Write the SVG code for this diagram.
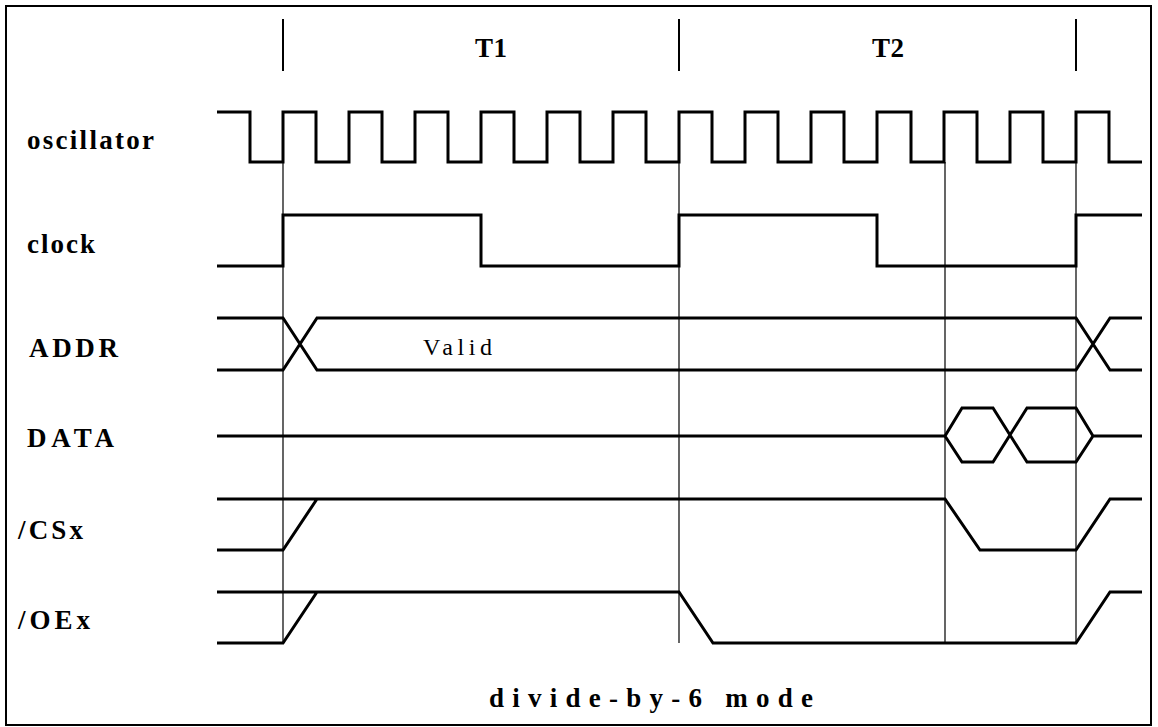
<svg xmlns="http://www.w3.org/2000/svg" width="1158" height="727" viewBox="0 0 1158 727">
<style>
.sig{fill:none;stroke:#000;stroke-width:3;stroke-linejoin:miter}
.grid{fill:none;stroke:#000;stroke-width:1.2}
.tick{fill:none;stroke:#000;stroke-width:2}
.lbl{font-family:"Liberation Serif","Times New Roman",serif;font-weight:bold;font-size:27px;fill:#000}
.txt{font-family:"Liberation Serif","Times New Roman",serif;font-size:24px;fill:#000}
</style>
<rect x="0" y="0" width="1158" height="727" fill="#fff"/>
<rect x="6" y="6" width="1145" height="719" fill="none" stroke="#000" stroke-width="2"/>
<g id="ticks">
<path class="tick" d="M283,19V71M679,19V71M1076,19V71"/>
<text class="lbl" x="475" y="57" font-size="25" textLength="32" lengthAdjust="spacing">T1</text>
<text class="lbl" x="872" y="57" font-size="25" textLength="32" lengthAdjust="spacing">T2</text>
</g>
<g id="connectors">
<path class="grid" d="M283,162V643M679,162V643M945,162V643M1076,162V643"/>
</g>
<g id="oscillator">
<text class="lbl" x="27" y="149" textLength="127" lengthAdjust="spacing">oscillator</text>
<path class="sig" d="M217,112H250V162H283V112H316V162H349V112H382V162H415V112H448V162H481V112H514V162H547V112H580V162H613V112H646V162H679V112H712V162H745V112H778V162H811V112H844V162H877V112H911V162H944V112H977V162H1010V112H1043V162H1076V112H1109V162H1142"/>
</g>
<g id="clock">
<text class="lbl" x="27" y="253" textLength="68" lengthAdjust="spacing">clock</text>
<path class="sig" d="M217,266H283V215H481V266H679V215H877V266H1076V215H1142"/>
</g>
<g id="addr">
<text class="lbl" x="29" y="357" textLength="89" lengthAdjust="spacing">ADDR</text>
<path class="sig" d="M217,318H283L317,370H1076L1110,318H1142M217,370H283L317,318H1076L1110,370H1142"/>
<text class="txt" x="423" y="355" textLength="69" lengthAdjust="spacing">Valid</text>
</g>
<g id="data">
<text class="lbl" x="27" y="447" textLength="87" lengthAdjust="spacing">DATA</text>
<path class="sig" d="M217,436H945L962,408H993L1027,462H1076L1093,436H1142M945,436L962,462H993L1027,408H1076L1093,436"/>
</g>
<g id="csx">
<text class="lbl" x="18" y="539" textLength="65" lengthAdjust="spacing">/CSx</text>
<path class="sig" d="M217,499H945L980,550H1076L1110,499H1142M217,550H283L317,499"/>
</g>
<g id="oex">
<text class="lbl" x="18" y="629" textLength="72" lengthAdjust="spacing">/OEx</text>
<path class="sig" d="M217,592H679L713,643H1076L1110,592H1142M217,643H283L317,592"/>
</g>
<g id="caption">
<text class="lbl" x="489" y="707" font-size="26" textLength="324" lengthAdjust="spacing">divide-by-6 mode</text>
</g>
</svg>
